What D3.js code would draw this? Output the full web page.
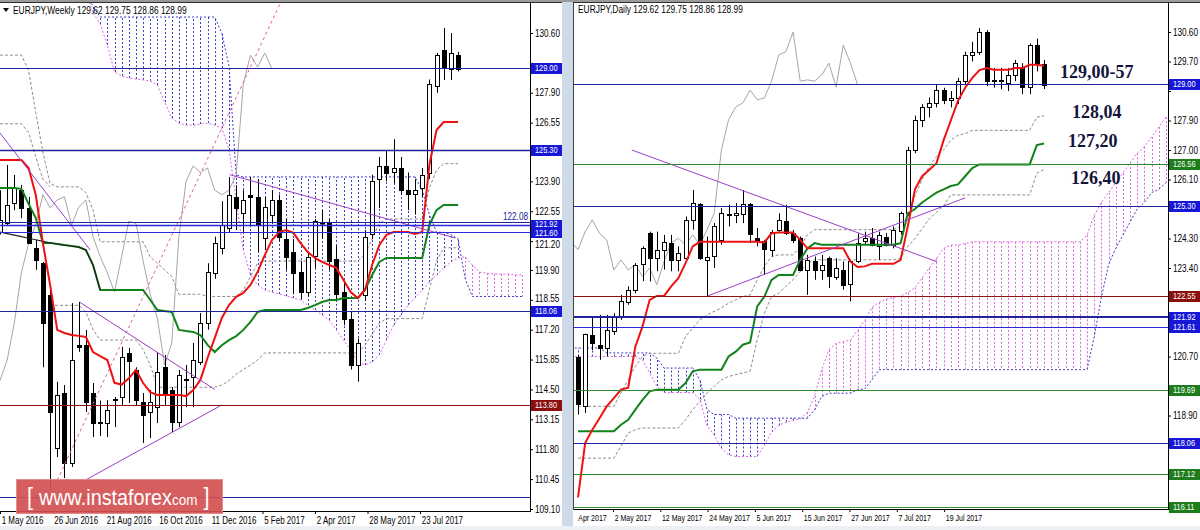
<!DOCTYPE html>
<html><head><meta charset="utf-8">
<script src="https://cdn.jsdelivr.net/npm/d3@7"></script>
<style>body{margin:0;background:#fff}svg{display:block}</style>
</head><body>
<svg id="c" width="1200" height="530"></svg>
<script>
// ---------------- WEEKLY DATA (EURJPY, Weekly) ----------------
const weeklyDates = ['1 May 2016','26 Jun 2016','21 Aug 2016','16 Oct 2016','11 Dec 2016','5 Feb 2017','2 Apr 2017','28 May 2017','23 Jul 2017'];
const weeklyYTicks = [130.60,129.25,127.90,126.55,125.20,123.90,122.55,121.20,119.90,118.55,117.20,115.85,114.50,113.15,111.80,110.45,109.10];
const weeklyOpen = [121.60,122.02,122.92,123.51,122.70,120.90,120.20,118.77,111.86,114.34,
 111.18,116.50,116.50,114.34,113.00,112.98,114.00,114.16,116.15,115.37,
 113.93,113.48,113.70,115.52,114.48,113.03,114.95,115.06,115.74,117.50,
 119.76,120.90,121.80,123.20,122.47,123.30,123.20,121.34,122.38,123.06,
 121.30,120.70,119.80,118.90,120.50,122.00,122.00,120.40,118.90,117.70,
 115.60,118.80,121.50,124.00,124.60,124.30,124.50,123.50,123.30,123.60,
 124.30,128.20,129.83,128.98,129.62];
const weeklyHigh = [123.50,124.64,124.19,123.74,123.20,121.25,120.26,119.00,114.84,114.70,
 118.40,118.45,117.19,114.79,114.00,114.02,114.16,116.42,116.38,115.50,
 114.34,114.48,116.19,116.06,114.61,115.38,115.60,116.60,117.95,120.20,
 121.40,123.00,124.10,123.73,123.50,124.10,124.00,123.20,123.50,123.30,
 122.20,121.30,120.30,120.70,122.20,122.60,122.20,121.00,119.30,118.00,
 116.80,121.70,124.20,125.00,125.30,125.80,125.00,124.30,124.00,124.50,
 128.50,129.70,130.83,130.60,129.75];
const weeklyLow = [121.50,121.93,122.60,122.24,121.10,119.90,115.50,109.96,111.45,110.50,
 111.00,116.20,113.48,112.35,112.40,112.35,112.80,113.80,113.89,113.80,
 112.08,112.30,112.98,113.80,112.58,112.80,113.70,113.70,115.60,117.20,
 119.50,120.60,121.60,121.70,121.60,121.90,120.70,120.80,122.00,121.20,
 119.90,118.80,118.60,118.70,120.00,121.30,119.90,118.50,117.40,115.40,
 114.85,118.50,121.30,122.70,123.90,123.80,123.30,122.60,122.40,123.20,
 124.00,127.90,128.48,128.48,128.86];
const weeklyClose = [122.15,122.83,123.60,122.70,121.12,120.35,117.50,113.48,114.25,111.18,
 115.83,116.40,113.93,112.98,113.05,113.57,114.05,115.97,115.80,114.02,
 113.35,113.93,115.30,114.34,113.03,115.15,114.90,115.83,117.50,119.80,
 121.10,121.95,123.30,122.70,123.06,123.20,121.93,122.74,123.06,121.40,
 120.50,119.76,118.90,120.50,122.10,122.00,120.30,118.80,117.70,115.60,
 116.60,121.40,123.90,124.60,124.30,124.50,123.50,123.30,123.50,124.20,
 128.30,129.60,129.06,129.70,128.99];
const weeklyTenkan = [124.86,124.86,124.86,124.86,124.50,123.28,121.10,119.22,117.19,117.05,
 116.96,116.92,116.87,116.19,116.00,115.83,114.80,114.72,115.00,115.38,
 114.79,114.38,114.25,114.25,114.25,114.25,114.20,114.47,114.93,115.92,
 116.82,117.73,118.31,118.68,118.86,119.22,119.81,120.57,121.25,121.61,
 121.70,121.57,121.11,120.71,120.44,120.26,120.12,119.99,119.44,118.90,
 118.63,118.99,120.12,121.02,121.48,121.61,121.61,121.61,121.52,121.61,
 124.64,126.22,126.58,126.58,126.58];
const weeklyKijun = [123.60,123.60,123.60,123.56,122.88,122.24,121.12,121.12,121.07,121.02,
 120.98,120.93,120.80,120.12,118.99,118.99,118.99,118.99,118.99,118.99,
 118.99,118.54,118.09,118.04,118.00,117.19,117.14,117.10,116.96,116.51,
 116.19,116.50,116.73,116.91,117.19,117.55,118.00,118.09,118.09,118.09,
 118.09,118.09,118.09,118.18,118.31,118.45,118.54,118.54,118.63,118.63,
 118.63,118.99,119.67,120.26,120.44,120.44,120.44,120.44,120.44,120.44,
 121.93,122.60,122.83,122.83,122.83];
const weeklyBlackLine = [121.61,121.54,121.47,121.40,121.33,121.26,121.19,121.12,121.07,121.02,120.98,120.93,120.80,120.12,118.99];
const weeklySpanStart = 10;
const weeklySpanA = [133.00,133.00,132.50,131.50,131.00,130.06,128.84,128.66,128.57,128.52,
 128.48,128.43,128.25,127.48,126.76,126.53,126.44,126.44,126.49,126.53,
 126.44,126.31,125.32,123.06,120.80,119.67,119.22,118.99,118.90,118.81,
 118.72,118.63,118.54,118.31,118.09,117.86,117.64,117.19,116.73,116.28,
 115.74,115.60,115.74,116.06,116.73,117.41,117.86,118.31,118.63,118.99,
 119.35,119.67,119.99,120.26,120.44,120.49,120.12,119.80,119.75,119.71,
 119.71,119.71,119.67,119.67];
const weeklySpanB = [132.50,132.50,132.50,131.80,131.32,131.32,131.32,131.32,131.32,131.32,
 131.32,131.32,131.32,131.32,131.32,131.32,131.32,131.32,131.32,131.32,
 131.32,130.60,129.10,124.20,124.10,124.10,124.10,124.10,124.10,124.10,
 124.10,124.10,124.10,124.10,124.10,124.10,124.10,124.10,124.10,124.10,
 124.10,124.10,124.10,124.10,124.10,124.10,124.10,124.10,124.10,123.50,
 122.40,121.60,121.60,121.50,121.30,119.50,118.70,118.70,118.70,118.70,
 118.70,118.70,118.70,118.70];
const weeklyDashA = [129.60,129.60,129.60,129.60,128.90,127.00,125.20,123.80,123.65,123.65,
 123.65,123.65,123.40,122.60,121.17,121.17,121.17,121.17,121.17,121.17,
 121.17,120.48,120.20,119.90,119.60,118.80,118.80,118.80,118.80,118.70,
 118.70,118.70,118.70,118.70,119.00,119.60,120.20,120.30,120.30,120.30,
 120.30,120.30,120.30,120.30,120.30,120.30,120.30,120.30,120.30,120.30,
 120.30,120.60,121.30,122.00,122.20,122.20,122.20,122.20,122.20,122.20,
 123.60,124.40,124.70,124.70,124.70];
const weeklyDashB = [126.50,126.50,126.50,126.50,126.10,125.00,124.00,123.65];
const weeklyDashCStart = 7;
const weeklyDashC = [118.30,118.30,118.30,118.30,118.30,118.00,117.20,116.73,116.73,116.73,
 116.73,116.73,116.73,116.30,115.60,114.60,114.60,114.60,114.60,114.60,
 114.60,114.60,114.60,114.60,114.70,114.90,115.20,115.40,115.60,115.83,
 116.15,116.15,116.15,116.15,116.15,116.15,116.15,116.15,116.15,116.15,
 116.15,116.15,116.15,116.15,116.50,117.00,117.50,117.70,117.70,117.70,
 117.70,117.70,117.70,119.00,120.30,120.90,120.90,120.90];
const weeklyLevels = [129.00,125.30,122.08,121.92,121.60,118.06,113.80,109.64];
const weeklyBoxLevels = [129.00,125.30,121.92,121.60,118.06,113.80];
const weeklyTrendStart = [[8,110.40],[11.1,118.45],[11.9,110.40],[32.1,124.20],[0,126.08]];
const weeklyTrendEnd   = [[39.1,131.90],[30,114.50],[31,113.80],[63.6,121.34],[12.6,120.80]];

// ---------------- DAILY DATA (EURJPY, Daily) ----------------
const dailyDates = ['Apr 2017','2 May 2017','12 May 2017','24 May 2017','5 Jun 2017','15 Jun 2017','27 Jun 2017','7 Jul 2017','19 Jul 2017'];
const dailyYTicks = [130.60,129.70,128.80,127.90,127.00,126.10,125.20,124.30,123.40,122.50,121.60,120.70,119.80,118.90,118.00,117.10,116.20];
const dailyOpen = [120.70,119.18,121.36,121.06,120.96,121.50,121.92,122.38,122.74,123.50,
 124.46,123.70,123.96,124.16,123.65,123.70,124.87,125.36,123.65,123.75,
 124.26,125.04,125.02,125.07,125.36,124.31,124.21,123.96,124.56,124.82,
 124.46,124.31,123.34,123.60,123.34,123.70,123.14,123.35,122.89,123.60,
 124.21,124.31,124.06,124.36,124.11,124.51,125.08,127.00,127.92,128.31,
 128.44,128.83,128.53,128.59,129.10,129.90,130.00,130.60,129.10,129.14,
 129.05,129.29,129.50,128.92,130.20,129.62];
const dailyHigh = [120.75,121.40,121.92,121.97,121.97,122.02,122.58,122.84,123.55,124.06,
 124.51,124.51,124.41,124.41,124.06,124.97,125.78,125.38,124.36,124.77,
 125.23,125.33,125.38,125.78,125.38,124.62,124.26,124.56,125.07,125.33,
 124.56,124.36,123.80,123.75,123.80,123.75,123.70,123.60,123.65,124.46,
 124.51,124.62,124.51,124.46,124.67,125.12,127.10,128.05,128.40,128.60,
 129.00,128.90,128.80,129.20,130.00,130.30,130.72,130.66,129.50,129.50,
 129.50,129.75,129.65,130.25,130.40,129.75];
const dailyLow = [118.93,118.98,120.90,120.60,120.70,121.36,121.82,122.28,122.63,123.00,
 122.99,123.30,123.35,123.30,123.30,123.65,124.57,123.65,122.53,123.40,
 124.11,124.67,124.77,124.77,124.16,124.06,123.19,123.75,124.51,124.41,
 124.16,123.30,122.58,123.04,123.04,122.79,123.04,122.74,122.38,123.55,
 124.11,124.06,123.65,124.06,124.00,124.41,125.00,126.90,127.70,128.00,
 128.30,128.40,128.30,128.40,129.00,129.70,129.90,128.95,128.90,128.85,
 128.80,129.10,128.70,128.70,129.40,128.86];
const dailyClose = [119.28,121.39,121.11,120.96,121.52,121.92,122.38,122.74,123.50,124.00,
 123.70,123.94,124.20,123.65,123.87,124.87,125.38,123.70,123.75,124.67,
 125.07,125.06,125.09,125.36,124.46,124.21,123.96,124.51,124.87,124.46,
 124.26,123.34,123.65,123.34,123.50,123.14,123.40,122.89,123.60,124.16,
 124.31,124.11,124.41,124.11,124.57,125.07,127.00,127.92,128.31,128.44,
 128.83,128.53,128.59,129.10,129.90,130.00,130.60,129.10,129.14,129.10,
 129.29,129.65,128.92,130.20,129.65,128.99];
const dailyTenkan = [116.40,118.06,118.47,118.82,119.18,119.43,119.69,119.75,121.00,121.62,
 122.43,122.55,122.55,122.84,123.09,123.55,124.06,124.20,124.20,124.20,
 124.20,124.20,124.20,124.20,124.20,124.20,124.18,124.46,124.48,124.48,
 124.48,124.26,124.00,124.00,124.00,124.00,124.00,124.00,123.60,123.43,
 123.45,123.53,123.53,123.53,123.53,123.65,124.67,125.80,126.20,126.40,
 126.60,127.30,127.90,128.50,128.90,129.20,129.44,129.50,129.45,129.45,
 129.45,129.50,129.50,129.60,129.60,129.57];
const dailyKijun = [118.42,118.42,118.42,118.42,118.42,118.42,118.62,118.77,119.08,119.38,
 119.64,119.69,119.69,119.69,119.69,119.89,120.25,120.30,120.30,120.30,
 120.30,120.70,120.85,121.06,121.13,122.23,122.53,123.04,123.19,123.19,
 123.19,123.65,124.00,124.16,124.11,124.11,124.11,124.11,124.11,124.11,
 124.11,124.11,124.11,124.11,124.11,124.16,125.07,125.20,125.40,125.55,
 125.70,125.80,125.90,125.95,126.20,126.45,126.56,126.56,126.56,126.56,
 126.56,126.56,126.56,126.56,127.15,127.20];
const dailyDashUpper = [119.18,119.18,119.18,119.18,119.18,119.18,119.59,119.99,120.40,120.70,
 120.80,120.80,120.80,120.80,120.80,121.31,121.57,121.82,121.97,122.08,
 122.18,122.33,122.43,122.53,122.58,123.04,123.45,123.75,123.80,123.80,
 123.80,124.06,124.41,124.57,124.57,124.57,124.57,124.57,124.57,124.57,
 124.57,124.57,124.57,124.57,124.57,124.67,124.97,125.60,126.10,126.50,
 126.80,127.00,127.30,127.45,127.50,127.60,127.60,127.60,127.60,127.60,
 127.60,127.60,127.60,127.60,128.00,128.04];
const dailyDashLower = [117.60,117.60,117.60,117.60,117.60,117.60,117.96,118.37,118.47,118.52,
 118.52,118.52,118.52,118.52,118.52,118.77,119.08,119.33,119.59,119.79,
 119.99,120.09,120.15,120.20,120.25,121.21,122.02,122.53,122.63,122.84,
 123.04,123.30,123.55,123.65,123.65,123.65,123.65,123.65,123.65,123.65,
 123.65,123.65,123.65,123.65,123.65,123.70,124.06,124.30,124.60,124.90,
 125.10,125.30,125.63,125.63,125.63,125.63,125.63,125.63,125.63,125.63,
 125.63,125.63,125.63,125.63,126.30,126.40];
const dailySpanStart = -1;
const dailySpanA = [120.70,120.70,120.70,120.70,120.70,120.70,120.70,120.70,120.70,120.70,
 120.60,120.20,119.80,119.60,119.60,119.60,119.60,119.60,119.40,118.60,
 118.30,117.90,117.70,117.65,117.65,117.65,117.65,118.00,118.40,118.60,
 118.70,118.75,118.80,119.00,119.50,120.30,120.90,121.10,121.15,121.20,
 121.50,121.80,122.20,122.35,122.45,122.50,122.55,122.65,122.80,123.10,
 123.40,123.70,124.00,124.10,124.10,124.15,124.20,124.20,124.20,124.20,
 124.20,124.20,124.20,124.20,124.20,124.20,124.20,124.20,124.20,124.20,
 124.20,124.20,124.40,125.00,125.40,125.70,126.00,126.30,126.60,126.90,
 127.10,127.40,127.70,128.00];
const dailySpanB = [120.96,120.96,120.96,120.96,120.96,120.81,120.81,120.81,120.81,120.81,
 120.81,120.81,120.65,120.35,120.35,120.35,120.35,120.35,119.99,119.08,
 118.93,118.93,118.93,118.82,118.82,118.82,118.82,118.82,118.82,118.82,
 118.82,118.82,118.82,118.82,119.08,119.48,119.58,119.58,119.58,119.58,
 119.69,119.71,119.99,120.30,120.30,120.30,120.30,120.30,120.30,120.30,
 120.30,120.30,120.30,120.30,120.30,120.30,120.30,120.30,120.30,120.30,
 120.30,120.30,120.30,120.30,120.30,120.30,120.30,120.30,120.30,120.30,
 120.30,120.30,120.30,121.30,122.50,123.50,124.00,124.40,124.80,125.20,
 125.40,125.70,125.80,126.00];
const dailyLevels = [129.00,126.56,125.30,122.55,121.92,121.61,119.69,118.06,117.12,116.11];
const dailyTrendStart = [[7.5,127.00],[18.1,122.55]];
const dailyTrendEnd   = [[50.1,123.59],[54,125.54]];
const dailyNotes = ['129,00-57','128,04','127,20','126,40'];
const headerWeekly = 'EURJPY,Weekly  129.62 129.75 128.86 128.99';
const headerDaily = 'EURJPY,Daily  129.62 129.75 128.86 128.99';

// ---------------- STYLES ----------------
const UI = "'Liberation Sans', Arial, sans-serif";
const C = {navy:'#22229a', blue:'#2a2ad6', red:'#8c1414', green:'#2f8a2f',
  boxBlue:'#1717d8', boxRed:'#8b0f0f', boxGreen:'#1d7d1d',
  tenkan:'#ee1111', kijun:'#12821a', chikou:'#a6a6a6', dash:'#8c8c8c',
  spanA:'#dd66dd', spanB:'#3c3cc8', trend:'#9a3fc8', pinkTrend:'#e05aa8'};
const weeklyLevelStyle = [['navy',1],['navy',1.5],['navy',1],['blue',1.5],['blue',1],['navy',1],['red',1],['navy',1]];
const weeklyBoxStyle = ['boxBlue','boxBlue','boxBlue','boxBlue','boxBlue','boxRed'];
const dailyLevelStyle = [['navy',1],['green',1],['navy',1],['red',1],['navy',2],['blue',1],['green',1],['navy',1],['green',1],['green',1]];
const dailyBoxStyle = ['boxBlue','boxGreen','boxBlue','boxRed','boxBlue','boxBlue','boxGreen','boxBlue','boxGreen','boxGreen'];

const svg = d3.select('#c');
svg.append('rect').attr('width',1200).attr('height',530).attr('fill','#fff');
const defs = svg.append('defs');

function ctext(g, x, y, txt, opt={}) {
  return g.append('g').attr('transform',`translate(${x},${y}) scale(${opt.sx||0.82},1)`)
    .append('text').text(txt).attr('font-family',opt.family||UI).attr('font-size',opt.size||10)
    .attr('fill',opt.fill||'#000').attr('text-anchor',opt.anchor||'start')
    .attr('font-weight',opt.weight||'normal');
}

function panel(p) {
  const {x, y} = p;
  defs.append('clipPath').attr('id',p.id).append('rect')
    .attr('x',p.left).attr('y',p.top).attr('width',p.right-p.left).attr('height',p.bottom-p.top);
  const g = svg.append('g').attr('clip-path',`url(#${p.id})`);
  const px = i => Math.round(x(i)) + 0.5;

  // cloud hatch
  const hatch = d3.range(p.spanA.length);
  g.append('g').selectAll('line').data(hatch).join('line')
    .attr('x1',k=>px(k+p.spanStart)).attr('x2',k=>px(k+p.spanStart))
    .attr('y1',k=>y(p.spanA[k])).attr('y2',k=>y(p.spanB[k]))
    .attr('stroke',k=>p.spanA[k]>p.spanB[k]?C.spanA:C.spanB)
    .attr('stroke-width',1).attr('stroke-dasharray','2,2');
  const lineAt = (start) => d3.line().defined(d=>d!=null).x((d,k)=>x(k+start)).y(d=>y(d));
  g.append('path').attr('d',lineAt(p.spanStart)(p.spanA)).attr('fill','none').attr('stroke',C.spanA).attr('stroke-dasharray','2,2');
  g.append('path').attr('d',lineAt(p.spanStart)(p.spanB)).attr('fill','none').attr('stroke',C.spanB).attr('stroke-dasharray','2,2');

  // gray dashed lines
  p.dashes.forEach(([start,arr]) => {
    g.append('path').attr('d',lineAt(start)(arr)).attr('fill','none').attr('stroke',C.dash).attr('stroke-dasharray','3,2');
  });
  // chikou (closes drawn 26 bars back)
  g.append('path').attr('d',lineAt(-26)(p.close)).attr('fill','none').attr('stroke',C.chikou).attr('stroke-width',1);

  // candles
  const idx = d3.range(p.open.length);
  g.append('g').selectAll('line').data(idx).join('line')
    .attr('x1',px).attr('x2',px).attr('y1',i=>y(p.high[i])).attr('y2',i=>y(p.low[i]))
    .attr('stroke','#000');
  g.append('g').selectAll('rect').data(idx).join('rect')
    .attr('x',i=>Math.round(x(i))-2+0.5).attr('width',4)
    .attr('y',i=>Math.round(y(Math.max(p.open[i],p.close[i])))+0.5)
    .attr('height',i=>Math.max(0.5,Math.round(Math.abs(y(p.open[i])-y(p.close[i])))))
    .attr('fill',i=>p.close[i]>=p.open[i]?'#fff':'#000').attr('stroke','#000');

  // kijun, tenkan
  g.append('path').attr('d',lineAt(0)(p.kijun)).attr('fill','none').attr('stroke',C.kijun).attr('stroke-width',2);
  if (p.black) g.append('path').attr('d',lineAt(0)(p.black)).attr('fill','none').attr('stroke','#222').attr('stroke-width',1.2);
  g.append('path').attr('d',lineAt(0)(p.tenkan)).attr('fill','none').attr('stroke',C.tenkan).attr('stroke-width',2);

  // trend lines
  p.trendStart.forEach((s,k) => {
    const e = p.trendEnd[k];
    const st = p.trendStyle[k];
    g.append('line').attr('x1',x(s[0])).attr('y1',y(s[1])).attr('x2',x(e[0])).attr('y2',y(e[1]))
      .attr('stroke',C[st]).attr('stroke-width',1).attr('stroke-dasharray',st==='pinkTrend'?'3,3':null);
  });

  // horizontal levels
  p.levels.forEach((v,k) => {
    const [col,w] = p.levelStyle[k];
    const yy = Math.round(y(v)) + (w===2?0:0.5);
    g.append('line').attr('x1',p.left).attr('x2',p.right).attr('y1',yy).attr('y2',yy)
      .attr('stroke',C[col]).attr('stroke-width',w);
  });

  // y axis (tick labels hidden under price boxes are skipped, as in the terminal;
  // labels just beside a box are nudged away from it)
  const near = t => {
    let best = null;
    p.boxLevels.forEach(b => { const d = y(t)-y(b); if (best===null || Math.abs(d)<Math.abs(best)) best = d; });
    return best;
  };
  const shown = p.yTicks.filter(t => Math.abs(near(t)) >= 7);
  const ay = svg.append('g').attr('transform',`translate(${p.right},0)`)
    .call(d3.axisRight(y).tickValues(p.yTicks).tickFormat(d => shown.includes(d)?d3.format('.2f')(d):'').tickSize(3).tickSizeOuter(0));
  ay.select('.domain').remove();
  ay.selectAll('text').attr('font-family',UI).attr('font-size',10).attr('fill','#000')
    .attr('x',6).attr('transform','scale(0.82,1)')
    .attr('y', d => { const n = near(d); return Math.abs(n) < 12 ? Math.sign(n)*(12-Math.abs(n)) : 0; });
  ay.selectAll('line').attr('stroke','#000');
  // x axis
  const ax = svg.append('g').attr('transform',`translate(0,${p.bottom})`)
    .call(d3.axisBottom(x).tickValues(p.xTickIdx).tickFormat((d,k)=>p.xLabels[k]).tickSize(3).tickSizeOuter(0));
  ax.select('.domain').remove();
  ax.selectAll('text').attr('font-family',UI).attr('font-size',p.xFont).attr('fill','#000')
    .attr('text-anchor','start').attr('x',1.5).attr('transform',`scale(${p.xScale},1)`);
  ax.selectAll('line').attr('stroke','#000');
  if (p.hideFirstTick) ax.select('.tick line').remove();

  // frame
  svg.append('line').attr('x1',p.right+0.5).attr('x2',p.right+0.5).attr('y1',p.top).attr('y2',p.bottom+0.5).attr('stroke','#000');
  svg.append('line').attr('x1',p.left).attr('x2',p.right+1).attr('y1',p.bottom+0.5).attr('y2',p.bottom+0.5).attr('stroke','#000');

  // price boxes; texts of boxes that sit closer than 9px are pushed apart a little
  const boxY = p.boxLevels.map(v => Math.round(y(v)));
  const textY = boxY.slice();
  boxY.forEach((yy,k) => {
    boxY.forEach((zz,j) => {
      if (j!==k && Math.abs(yy-zz) < 9) textY[k] += (yy < zz ? -1 : 1) * (9 - Math.abs(yy-zz)) / 2;
    });
  });
  p.boxLevels.forEach((v,k) => {
    svg.append('rect').attr('x',p.right+1).attr('y',boxY[k]-5).attr('width',p.boxW).attr('height',11)
      .attr('fill',C[p.boxStyle[k]]);
  });
  p.boxLevels.forEach((v,k) => {
    ctext(svg, p.right+5, textY[k]+3.3, d3.format('.2f')(v), {fill:'#fff', size:9});
  });
}

// ---------------- LEFT (weekly) ----------------
const xW = d3.scaleLinear().domain([0,64]).range([0,458]);
const yW = d3.scaleLinear().domain([109.10,130.60]).range([509,33]);
panel({id:'clipW', x:xW, y:yW, left:0, right:530, top:3, bottom:511,
  open:weeklyOpen, high:weeklyHigh, low:weeklyLow, close:weeklyClose,
  tenkan:weeklyTenkan, kijun:weeklyKijun, black:weeklyBlackLine,
  spanA:weeklySpanA, spanB:weeklySpanB, spanStart:weeklySpanStart,
  dashes:[[0,weeklyDashA],[0,weeklyDashB],[weeklyDashCStart,weeklyDashC]],
  trendStart:weeklyTrendStart, trendEnd:weeklyTrendEnd,
  trendStyle:['pinkTrend','trend','trend','trend','trend'],
  levels:weeklyLevels, levelStyle:weeklyLevelStyle,
  boxLevels:weeklyBoxLevels, boxStyle:weeklyBoxStyle, boxW:32,
  yTicks:weeklyYTicks, xLabels:weeklyDates, xFont:10, xScale:0.8,
  xTickIdx:weeklyDates.map((d,k)=>k*52.5/ (458/64))});

// ---------------- RIGHT (daily) ----------------
const xD = d3.scaleLinear().domain([0,65]).range([578,1044]);
const yD = d3.scaleLinear().domain([116.11,130.60]).range([507,32]);
panel({id:'clipD', x:xD, y:yD, left:574, right:1168, top:3, bottom:509,
  open:dailyOpen, high:dailyHigh, low:dailyLow, close:dailyClose,
  tenkan:dailyTenkan, kijun:dailyKijun, black:null,
  spanA:dailySpanA, spanB:dailySpanB, spanStart:dailySpanStart,
  dashes:[[0,dailyDashUpper],[0,dailyDashLower]],
  trendStart:dailyTrendStart, trendEnd:dailyTrendEnd, trendStyle:['trend','trend'],
  levels:dailyLevels, levelStyle:dailyLevelStyle,
  boxLevels:dailyLevels, boxStyle:dailyBoxStyle, boxW:32,
  yTicks:dailyYTicks, xLabels:dailyDates, hideFirstTick:true, xFont:9, xScale:0.78,
  xTickIdx:dailyDates.map((d,k)=>k===0?-0.2:(613+(k-1)*47.3-578)/(466/65))});

// 122.08 text label
ctext(svg, 528, 219.5, '122.08', {fill:C.navy, anchor:'end'});

// separator between windows
svg.append('rect').attr('x',562).attr('y',0).attr('width',11).attr('height',530).attr('fill','#cfdae8');
svg.append('line').attr('x1',573.5).attr('x2',573.5).attr('y1',2).attr('y2',510).attr('stroke','#404040');
// top frame
svg.append('rect').attr('x',0).attr('y',0).attr('width',1200).attr('height',2).attr('fill','#9a9a9a');
svg.append('line').attr('x1',0).attr('x2',562).attr('y1',2.5).attr('y2',2.5).attr('stroke','#303030');
svg.append('line').attr('x1',573).attr('x2',1200).attr('y1',2.5).attr('y2',2.5).attr('stroke','#303030');
// bottom strip
svg.append('rect').attr('x',0).attr('y',526).attr('width',1200).attr('height',4).attr('fill','#eceff3');

// headers
svg.append('path').attr('d','M3,8 L9,8 L6,12 Z').attr('fill','#000');
ctext(svg, 13, 14, headerWeekly, {sx:0.84});
ctext(svg, 578, 13, headerDaily, {sx:0.84});

// notes on daily chart
const noteX = [1060,1072,1068,1071], noteY = [78,118,147,184];
dailyNotes.forEach((t,k) => {
  svg.append('text').attr('x',noteX[k]).attr('y',noteY[k]).text(t)
    .attr('font-family',"'Liberation Serif','Times New Roman',serif").attr('font-weight','bold')
    .attr('font-size',18).attr('fill','#14143a');
});

// banner
svg.append('rect').attr('x',16.5).attr('y',479.5).attr('width',206).attr('height',34)
  .attr('fill','#d45050').attr('fill-opacity',0.92).attr('stroke','#e58a8a');
const bt = svg.append('g').attr('transform','translate(27,505) scale(0.9,1)').append('text')
  .attr('font-family',UI).attr('fill','#fff');
bt.append('tspan').attr('font-size',24).text('[ ');
bt.append('tspan').attr('font-size',22).text('www.instaforex');
bt.append('tspan').attr('font-size',15).text('com');
bt.append('tspan').attr('font-size',24).text(' ]');
</script>
</body></html>
